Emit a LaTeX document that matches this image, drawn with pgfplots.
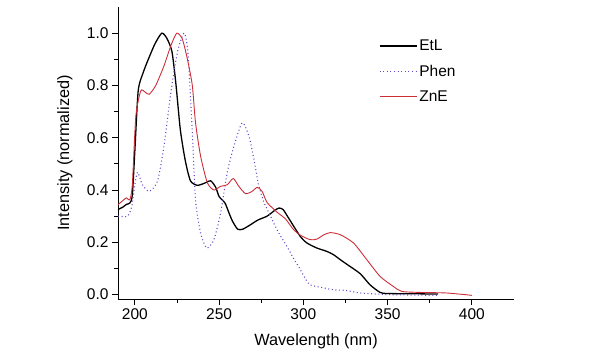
\documentclass[border=0pt]{standalone}
\usepackage{pgfplots}
\pgfplotsset{compat=1.18}
\usepackage{fontspec}
\setmainfont{Liberation Sans}
\definecolor{phen}{RGB}{105,70,205}
\definecolor{zne}{RGB}{205,45,55}
\begin{document}
\begin{tikzpicture}
\begin{axis}[
  scale only axis, width=396bp, height=292bp,
  xmin=190, xmax=425, ymin=-0.017, ymax=1.1,
  axis lines*=left,
  tick align=outside,
  xtick={200,250,300,350,400}, minor x tick num=1,
  ytick={0,0.2,0.4,0.6,0.8,1.0}, minor y tick num=1,
  major tick length=6bp, minor tick length=3.5bp,
  tick style={black, line width=0.8bp},
  axis line style={line width=0.8bp},
  /pgf/number format/assume math mode=true,
  yticklabel style={/pgf/number format/.cd, fixed, fixed zerofill, precision=1},
  font=\fontsize{15.5bp}{18bp}\selectfont,
  xlabel={Wavelength (nm)}, ylabel={Intensity (normalized)},
  xlabel style={at={(rel axis cs:0.5,0)}, anchor=center, yshift=-42bp, font=\fontsize{16.3bp}{19bp}\selectfont},
  ylabel style={at={(rel axis cs:0,0.5)}, anchor=center, yshift=53bp, font=\fontsize{16.3bp}{19bp}\selectfont},
  legend style={draw=none, fill=none, at={(axis cs:343,0.99)}, anchor=north west, row sep=9bp},
  legend cell align=left,
  legend image code/.code={\draw[#1] (0bp,0bp) -- (37bp,0bp);},
]
\addplot[black, line width=1.3bp, smooth, tension=0.4] coordinates {
(190,0.325)(193,0.335)(195,0.345)(197,0.35)(198.5,0.38)(200,0.55)(202,0.78)(205,0.85)(208,0.90)(212,0.96)(216,1.0)(219,0.98)(222,0.93)(224.3,0.81)(227,0.63)(230,0.51)(233,0.435)(237,0.418)(241,0.425)(245,0.435)(248,0.41)(250,0.375)(253.5,0.35)(256,0.31)(258,0.28)(261,0.25)(264,0.25)(268.6,0.267)(273,0.285)(278.5,0.30)(283,0.322)(285.6,0.331)(288,0.325)(291,0.295)(298.2,0.222)(302.2,0.197)(308,0.178)(314,0.165)(318,0.152)(322,0.133)(326,0.115)(333.7,0.08)(339.6,0.037)(345.6,0.008)(350,0.004)(365,0.003)(380,0.002)};
\addlegendentry{EtL}
\addplot[phen, line width=1.1bp, dash pattern=on 1bp off 2.6bp, smooth, tension=0.4] coordinates {
(190,0.30)(195.7,0.30)(198.2,0.338)(200,0.42)(201.6,0.468)(204.5,0.42)(208.5,0.395)(213.4,0.433)(217.3,0.568)(221.3,0.77)(225.2,0.925)(229.2,1.0)(231.5,0.925)(234.1,0.62)(236,0.363)(239,0.236)(242.6,0.178)(246.9,0.21)(250.9,0.312)(254.8,0.466)(258.8,0.568)(263.7,0.657)(267.7,0.606)(270.6,0.52)(273.4,0.42)(276.5,0.355)(280.5,0.30)(285,0.24)(290.3,0.184)(294,0.14)(297.2,0.107)(301,0.063)(304,0.037)(311.8,0.026)(318,0.018)(325,0.016)(333.7,0.006)(350,0.0)(365,-0.002)(380,-0.003)};
\addlegendentry{Phen}
\addplot[zne, line width=0.9bp, smooth, tension=0.4] coordinates {
(190,0.344)(193,0.36)(195,0.37)(197,0.363)(198.5,0.42)(200.6,0.683)(203.5,0.779)(206,0.775)(208.5,0.766)(212.4,0.80)(217.3,0.875)(221.3,0.951)(224.9,1.0)(228.2,0.977)(231.2,0.90)(234.1,0.80)(236,0.658)(239,0.53)(243,0.428)(246.9,0.40)(250.9,0.414)(254.8,0.42)(258.4,0.444)(261.7,0.414)(265.7,0.386)(269.6,0.395)(272.6,0.41)(275.5,0.395)(278.5,0.352)(284.4,0.315)(289.3,0.29)(294,0.25)(298,0.228)(304,0.21)(308,0.212)(312,0.228)(316,0.237)(321.9,0.229)(329.8,0.197)(337.7,0.133)(345.6,0.069)(353.4,0.031)(358.4,0.012)(370,0.008)(385,0.006)(400,-0.003)};
\addlegendentry{ZnE}
\end{axis}
\path (current axis.south west) ++(-118bp,-58bp) rectangle ++(589bp,357bp);
\end{tikzpicture}
\end{document}
